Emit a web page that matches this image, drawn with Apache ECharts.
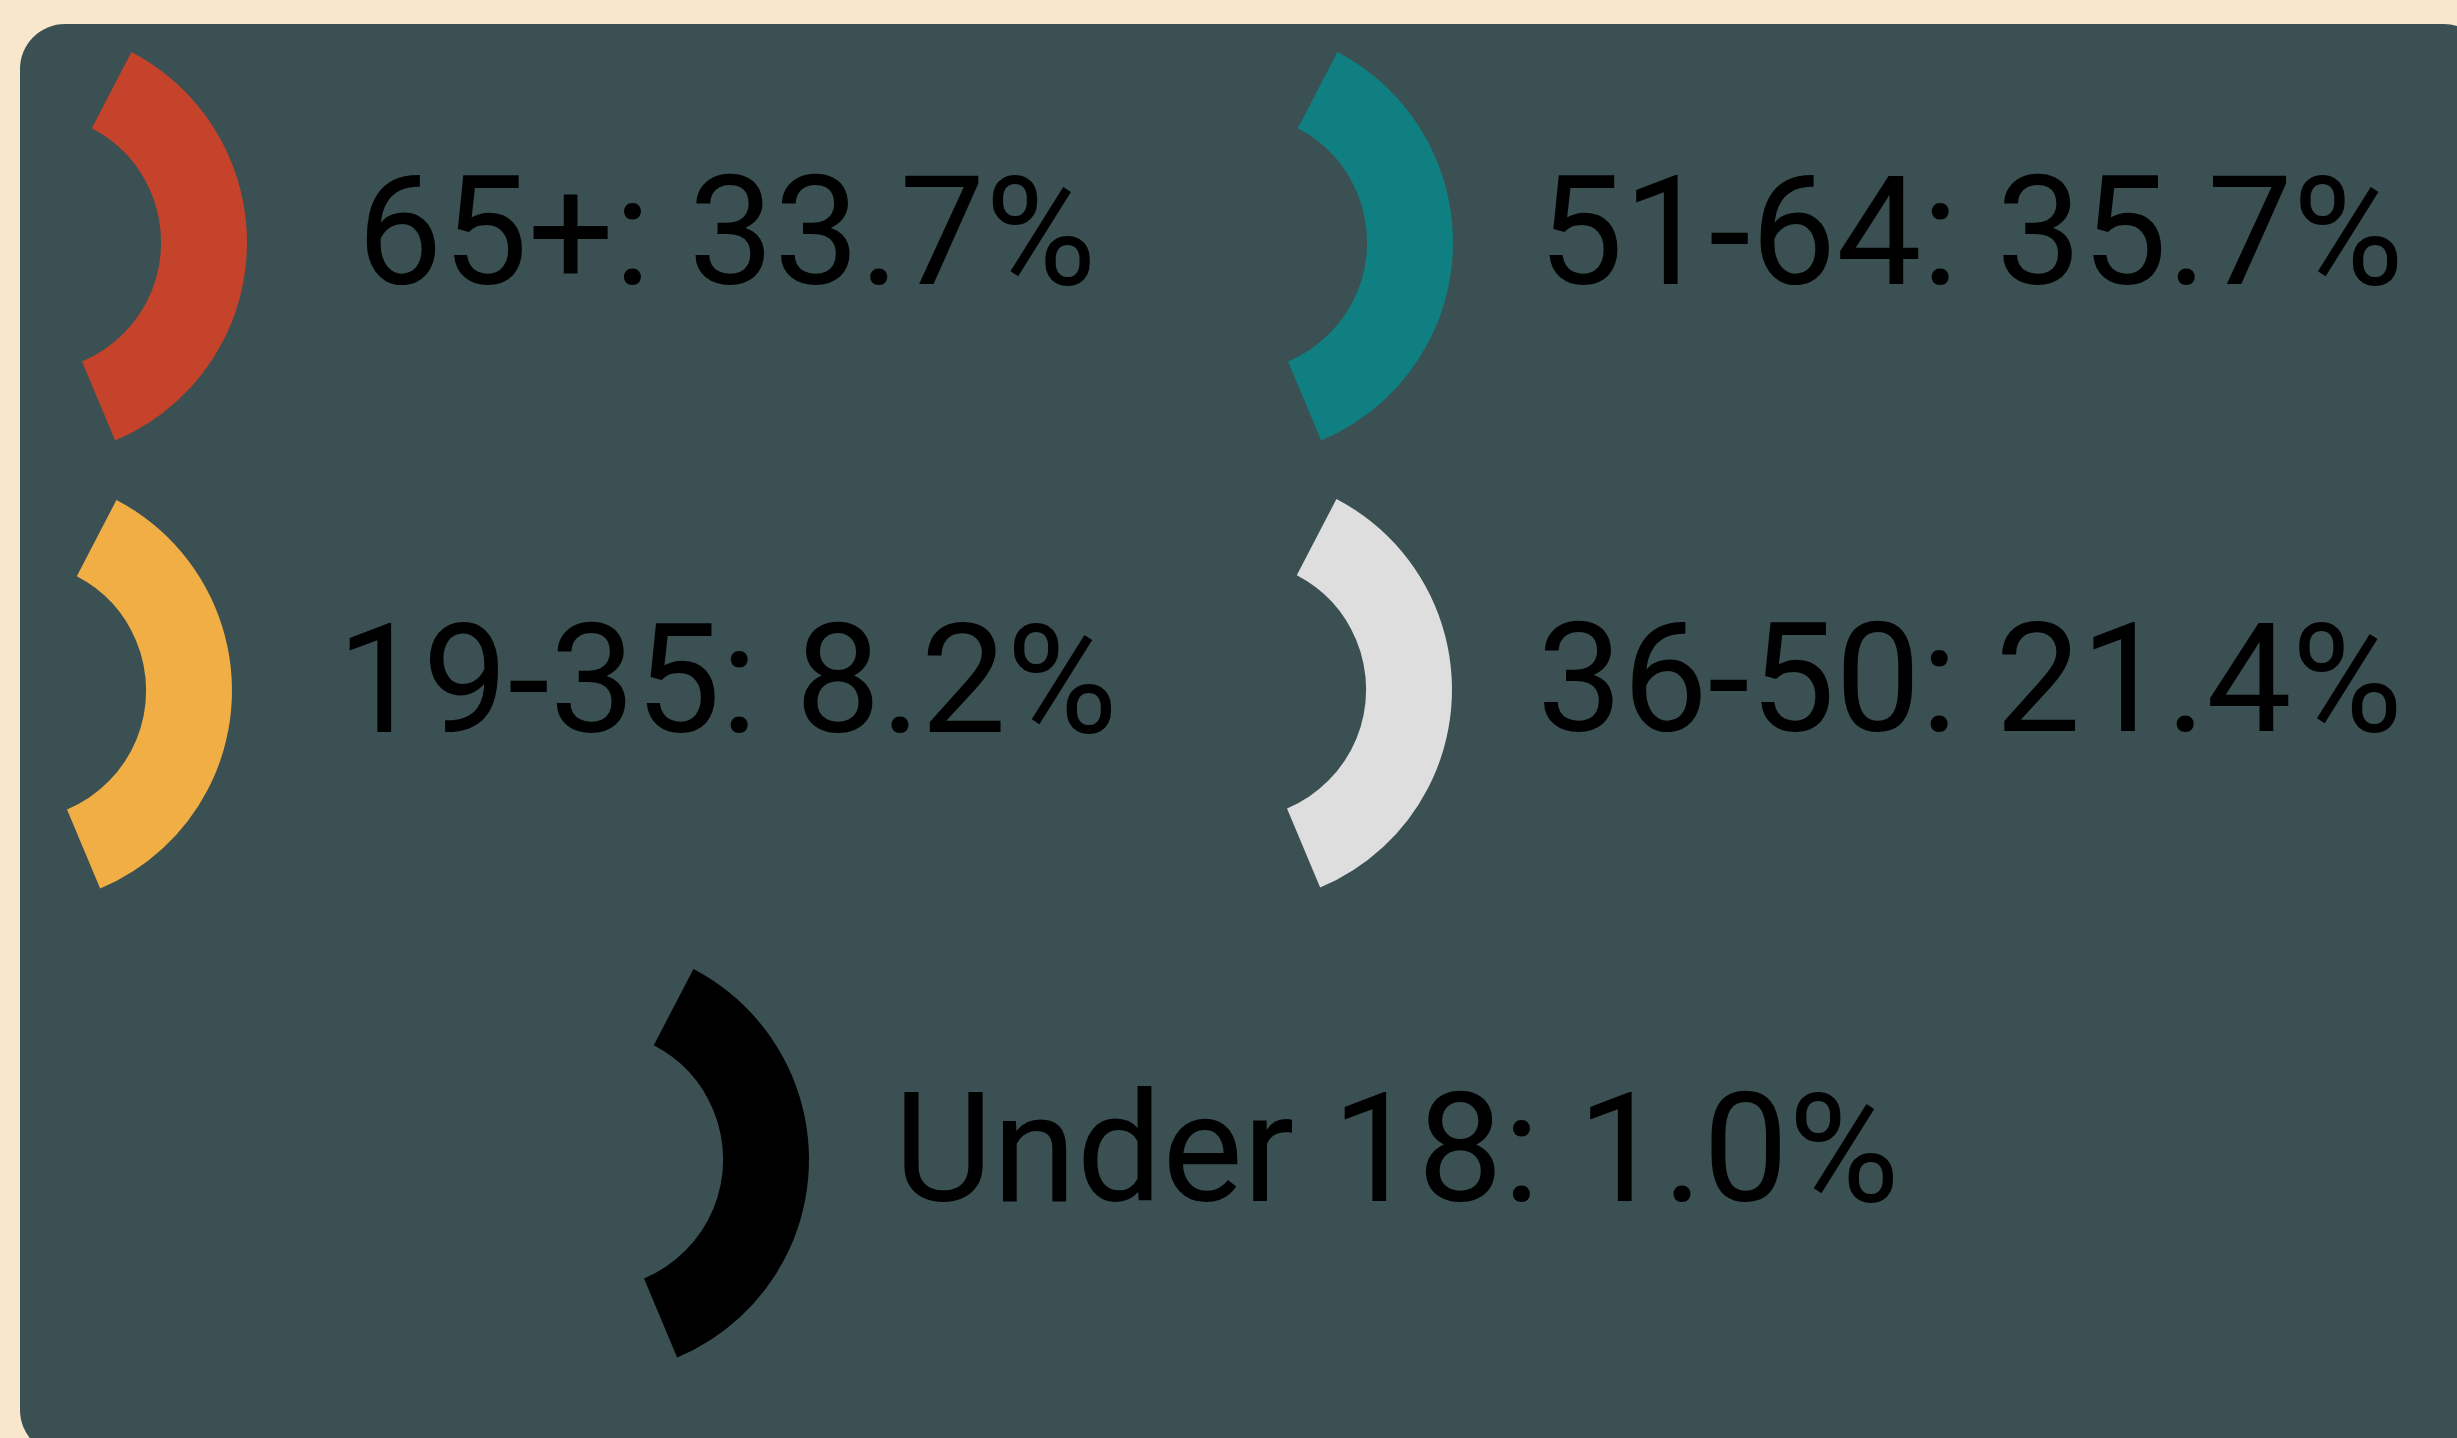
<!DOCTYPE html>
<html>
<head>
<meta charset="utf-8">
<script src="https://cdn.jsdelivr.net/npm/echarts@6/dist/echarts.min.js"></script>
<style>
  html, body { margin: 0; padding: 0; background: #f8e6cd; }
  #chart { width: 2457px; height: 1438px; }
</style>
</head>
<body>
<div id="chart"></div>
<script>
  // age groups and their share of the total (percent)
  const ageGroups = ['65+', '51-64', '19-35', '36-50', 'Under 18']
  const shares = [33.7, 35.7, 8.2, 21.4, 1.0]
  const groupColors = ['#c4432a', '#0f7f82', '#f0ae45', '#dedede', '#000000']

  // where each legend entry sits (left / top of its icon box, gap to text)
  const entryPos = [
    [82, 52, 105], [1288, 52, 80],
    [67, 500, 100], [1287, 499, 80],
    [644, 969, 80]
  ]

  // donut-segment icon, centre at 0,0 (outer r 215, inner r 129)
  const arcIcon = 'path://M99.3 -190.7 A215 215 0 0 1 83 198.3 L49.8 119 A129 129 0 0 0 59.6 -114.4 Z'

  const chart = echarts.init(document.getElementById('chart'))
  const fmt = name => `${name}: ${shares[ageGroups.indexOf(name)].toFixed(1)}%`

  chart.setOption({
    backgroundColor: '#f8e6cd',
    color: groupColors,
    animation: false,
    graphic: [{
      type: 'rect',
      z: 2,
      shape: { x: 20, y: 24, width: 2469, height: 1431, r: 45 },
      style: { fill: '#3a5052' },
      silent: true
    }],
    legend: ageGroups.map((name, i) => ({
      data: [name],
      left: entryPos[i][0],
      top: entryPos[i][1],
      padding: 0,
      icon: arcIcon,
      itemWidth: 165,
      itemHeight: 389,
      selectedMode: false,
      formatter: fmt,
      textStyle: {
        color: '#000',
        fontFamily: 'Roboto',
        fontSize: 152,
        padding: [0, 0, 18, entryPos[i][2]]
      }
    })),
    series: [{
      type: 'pie',
      z: 1,
      silent: true,
      radius: ['30%', '50%'],
      label: { show: false },
      data: ageGroups.map((name, i) => ({ name: name, value: shares[i] }))
    }]
  })
</script>
</body>
</html>
